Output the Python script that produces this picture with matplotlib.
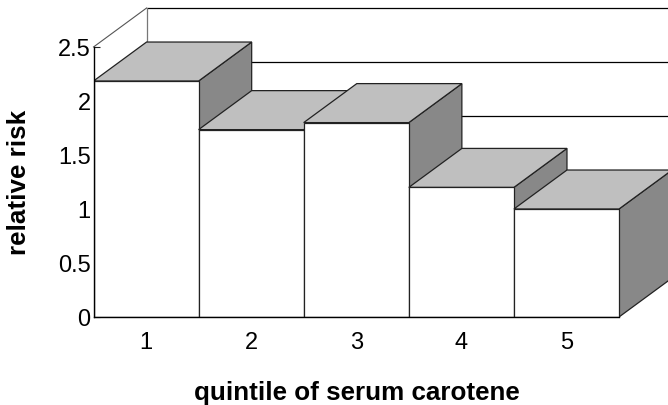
import matplotlib
matplotlib.use('Agg')
import matplotlib.pyplot as plt
from matplotlib.patches import Polygon

plt.rcParams['font.family'] = ['Liberation Sans', 'DejaVu Sans']

# Values
quintiles = [1, 2, 3, 4, 5]
risk = [2.185, 1.735, 1.80, 1.20, 1.00]
ytick_vals = [0, 0.5, 1, 1.5, 2, 2.5]
ytick_labels = ['0', '0.5', '1', '1.5', '2', '2.5']
back_lines = [2.5, 2, 1.5]

# Oblique depth of the 3D look, in data units
depth_x = 0.505
depth_y = 0.361
half = 0.5

W, H = 668, 406
fig = plt.figure(figsize=(W / 100, H / 100), dpi=100)
ax = fig.add_axes([93.5 / W, (H - 318) / H, (W - 93.5) / W, 309 / H])
ax.set_xlim(0.5, 0.5 + (W - 93.5) / 105.1)
ax.set_ylim(0, 309 / 108)

edge = '#222222'
top_col = '#bfbfbf'
side_col = '#888888'
lw = 0.9

# Back wall and left diagonal
x_back = 0.5 + depth_x
xmax = ax.get_xlim()[1]
for v in back_lines:
    ax.plot([x_back, xmax], [v + depth_y, v + depth_y], color='black', lw=lw, zorder=1, clip_on=False)
ax.plot([x_back, x_back], [2.5 + depth_y, 2.0 + depth_y], color='#777777', lw=lw, zorder=1)
ax.plot([0.5, x_back], [2.5, 2.5 + depth_y], color='#555555', lw=0.8, zorder=1, clip_on=False)

# Bars, left to right so each one paints over the hidden part of the last
z = 2
for q, r in zip(quintiles, risk):
    x0, x1 = q - half, q + half
    side = Polygon([(x1, 0), (x1 + depth_x, depth_y), (x1 + depth_x, r + depth_y), (x1, r)],
                   facecolor=side_col, edgecolor=edge, lw=lw, zorder=z, clip_on=True)
    top = Polygon([(x0, r), (x1, r), (x1 + depth_x, r + depth_y), (x0 + depth_x, r + depth_y)],
                  facecolor=top_col, edgecolor=edge, lw=lw, zorder=z + 1)
    front = Polygon([(x0, 0), (x1, 0), (x1, r), (x0, r)],
                    facecolor='white', edgecolor=edge, lw=lw, zorder=z + 2)
    ax.add_patch(side)
    ax.add_patch(top)
    ax.add_patch(front)
    z += 3

for s in ['top', 'right']:
    ax.spines[s].set_visible(False)
ax.spines['left'].set_bounds(0, 2.5)
ax.spines['left'].set_linewidth(1.0)
ax.spines['left'].set_zorder(50)
ax.spines['bottom'].set_bounds(0.5, 5.5)
ax.spines['bottom'].set_linewidth(1.0)
ax.spines['bottom'].set_zorder(50)

ax.set_yticks(ytick_vals)
ax.set_yticklabels(ytick_labels, fontsize=17)
ax.set_xticks(quintiles)
ax.set_xticklabels([str(q) for q in quintiles], fontsize=17)
ax.tick_params(axis='y', direction='in', length=4, width=0.8, pad=2, color='#222222')
ax.tick_params(axis='x', length=0, pad=10)
ax.patch.set_visible(False)

fig.text(357 / W, 1 - 400 / H, 'quintile of serum carotene', ha='center', va='baseline',
         fontsize=18.7, fontweight='bold')
fig.text(19.5 / W, 1 - 182.5 / H, 'relative risk', ha='center', va='center', rotation=90,
         fontsize=18.7, fontweight='bold')

fig.savefig('out.png', dpi=100, facecolor='white')
